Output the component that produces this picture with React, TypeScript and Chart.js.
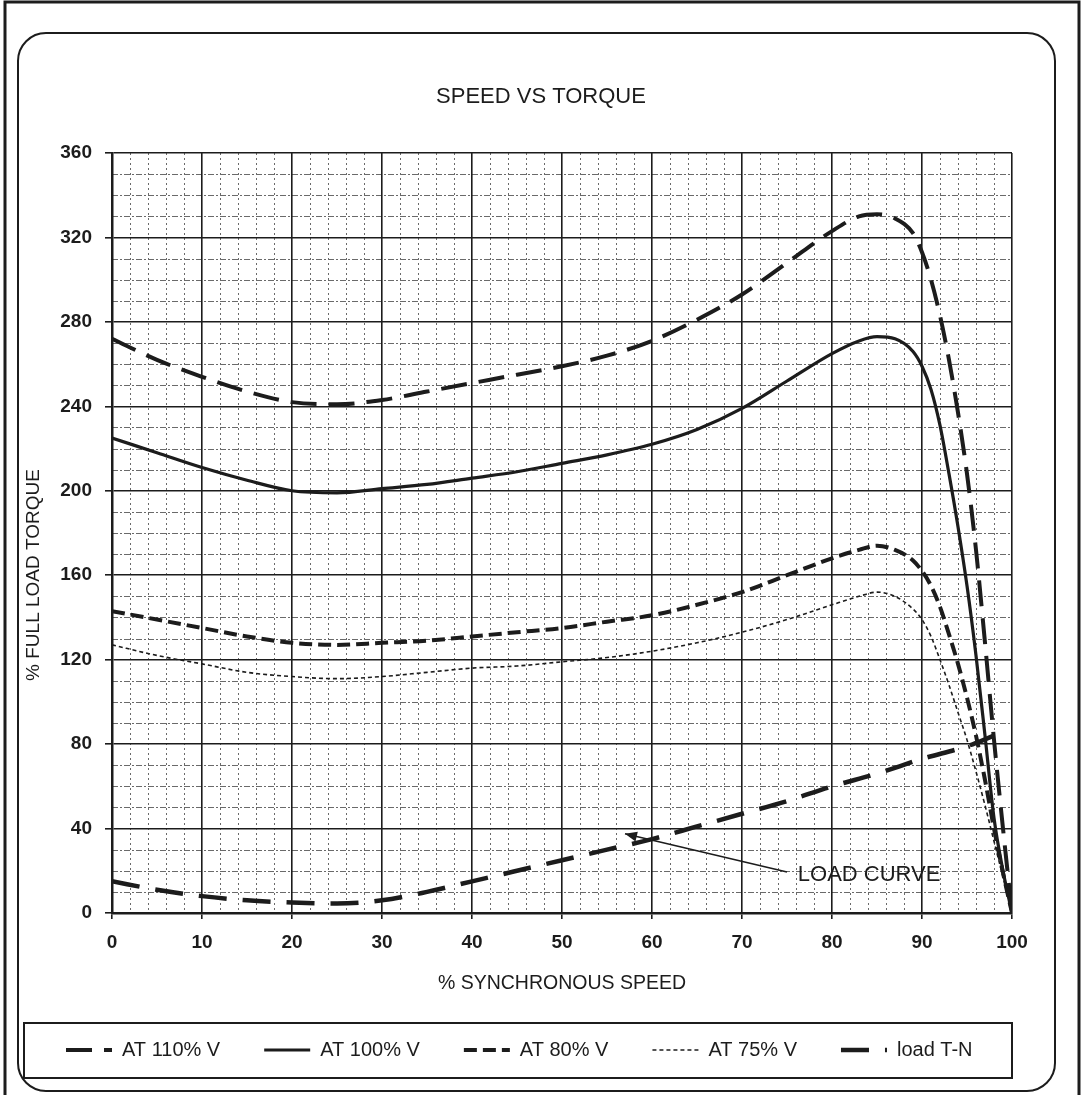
import React, { useEffect, useRef } from 'react';
import { Chart, registerables } from 'chart.js';

Chart.register(...registerables);

// ---------- data ----------
const SPEED = [0, 5, 10, 15, 20, 25, 30, 35, 40, 45, 50, 55, 60, 65, 70, 75, 80, 83, 85, 87, 89, 90, 91, 92, 93, 94, 95, 96, 97, 98, 99, 100];
const T110 = [272, 262, 254, 247, 242, 241, 243, 247, 251, 255, 259, 264, 271, 281, 293, 308, 323, 330, 331, 329, 322, 313, 300, 283, 262, 237, 208, 172, 128, 82, 40, 0];
const T100 = [225, 218, 211, 205, 200, 199, 201, 203, 206, 209, 213, 217, 222, 229, 239, 252, 265, 271, 273, 272, 266, 259, 248, 231, 208, 183, 155, 122, 84, 45, 20, 0];
const T80 = [143, 139, 135, 131, 128, 127, 128, 129, 131, 133, 135, 138, 141, 146, 152, 160, 168, 172, 174, 172, 167, 162, 155, 145, 132, 118, 102, 84, 63, 40, 19, 0];
const T75 = [127, 122, 118, 114, 112, 111, 112, 114, 116, 117, 119, 121, 124, 128, 133, 139, 146, 150, 152, 150, 144, 139, 131, 120, 108, 95, 82, 67, 51, 34, 17, 0];
const LOAD_SPEED = [0, 5, 10, 15, 20, 25, 30, 35, 40, 45, 50, 55, 60, 65, 70, 75, 80, 85, 90, 95, 98];
const LOAD_T = [15, 11, 8, 6, 5, 4.5, 6, 10, 15, 20, 25, 30, 35, 41, 47, 53, 60, 66, 73, 79, 84];

const SERIES_LABELS = ['AT 110% V', 'AT 100% V', 'AT 80% V', 'AT 75% V', 'load T-N'];
const X_TICKS = [0, 10, 20, 30, 40, 50, 60, 70, 80, 90, 100];
const Y_TICKS = [0, 40, 80, 120, 160, 200, 240, 280, 320, 360];
const X_MINOR_STEP = 2;
const Y_MINOR_STEP = 10;

const TITLE = 'SPEED VS TORQUE';
const X_TITLE = '% SYNCHRONOUS SPEED';
const Y_TITLE = '% FULL LOAD TORQUE';

const NOTE_TEXT = 'LOAD CURVE';
const NOTE_TEXT_AT = [76.2, 18];
const NOTE_ARROW_FROM = [75, 19.4];
const NOTE_ARROW_TO = [57.0, 37.5];

// ---------- styling ----------
const FONT = "'Liberation Sans', Arial, Helvetica, sans-serif";
const INK = '#1c1c1c';
const W = 1084;
const H = 1095;

const pairs = (xs: number[], ys: number[]) => xs.map((x, i) => ({ x, y: ys[i] }));

const decorPlugin = {
  id: 'decor',
  beforeDraw(chart: any) {
    const { ctx, scales } = chart;
    const xs = scales.x;
    const ys = scales.y;
    ctx.save();
    ctx.fillStyle = '#ffffff';
    ctx.fillRect(0, 0, chart.width, chart.height);

    // scanned page edges
    ctx.strokeStyle = INK;
    ctx.lineWidth = 3;
    ctx.beginPath();
    ctx.moveTo(5, H);
    ctx.lineTo(5, 2);
    ctx.lineTo(1079, 2);
    ctx.lineTo(1079, H);
    ctx.stroke();

    // rounded chart frame
    ctx.lineWidth = 2;
    ctx.beginPath();
    ctx.roundRect(18, 33, 1037, 1058, 28);
    ctx.stroke();

    // legend frame
    ctx.lineWidth = 2;
    ctx.strokeRect(24, 1023, 988, 55);

    // minor grid
    ctx.strokeStyle = '#6a6a6a';
    ctx.lineWidth = 1;
    ctx.setLineDash([2, 3]);
    const x0 = xs.min, x1 = xs.max, y0 = ys.min, y1 = ys.max;
    for (let v = x0 + X_MINOR_STEP; v < x1; v += X_MINOR_STEP) {
      if (X_TICKS.includes(v)) continue;
      const px = Math.round(xs.getPixelForValue(v)) + 0.5;
      ctx.beginPath();
      ctx.moveTo(px, ys.getPixelForValue(y1));
      ctx.lineTo(px, ys.getPixelForValue(y0));
      ctx.stroke();
    }
    ctx.setLineDash([6, 2, 2, 2]);
    for (let v = y0 + Y_MINOR_STEP; v < y1; v += Y_MINOR_STEP) {
      if (Y_TICKS.includes(v)) continue;
      const py = Math.round(ys.getPixelForValue(v)) + 0.5;
      ctx.beginPath();
      ctx.moveTo(xs.getPixelForValue(x0), py);
      ctx.lineTo(xs.getPixelForValue(x1), py);
      ctx.stroke();
    }
    ctx.restore();
  },
  afterDraw(chart: any) {
    const { ctx, scales } = chart;
    const xs = scales.x;
    const ys = scales.y;
    ctx.save();
    ctx.fillStyle = INK;
    ctx.strokeStyle = INK;

    // chart title
    ctx.font = `22px ${FONT}`;
    ctx.textAlign = 'center';
    ctx.textBaseline = 'middle';
    ctx.fillText(TITLE, 541, 97);

    // y axis title
    ctx.save();
    ctx.translate(34, 575);
    ctx.rotate(-Math.PI / 2);
    ctx.font = `19px ${FONT}`;
    ctx.fillText(Y_TITLE, 0, 0);
    ctx.restore();

    // annotation
    const ax = xs.getPixelForValue(NOTE_ARROW_FROM[0]);
    const ay = ys.getPixelForValue(NOTE_ARROW_FROM[1]);
    const bx = xs.getPixelForValue(NOTE_ARROW_TO[0]);
    const by = ys.getPixelForValue(NOTE_ARROW_TO[1]);
    ctx.lineWidth = 1.5;
    ctx.setLineDash([]);
    ctx.beginPath();
    ctx.moveTo(ax, ay);
    ctx.lineTo(bx, by);
    ctx.stroke();
    const ang = Math.atan2(by - ay, bx - ax);
    const hl = 13;
    ctx.beginPath();
    ctx.moveTo(bx, by);
    ctx.lineTo(bx - hl * Math.cos(ang - 0.4), by - hl * Math.sin(ang - 0.4));
    ctx.lineTo(bx - hl * Math.cos(ang + 0.4), by - hl * Math.sin(ang + 0.4));
    ctx.closePath();
    ctx.fill();
    ctx.font = `22px ${FONT}`;
    ctx.textAlign = 'left';
    ctx.textBaseline = 'middle';
    ctx.fillText(NOTE_TEXT, xs.getPixelForValue(NOTE_TEXT_AT[0]), ys.getPixelForValue(NOTE_TEXT_AT[1]));

    // legend
    const sampleW = 46;
    const gapText = 10;
    const gapItem = 44;
    const cy = 1050;
    let x = 66;
    ctx.font = `20px ${FONT}`;
    chart.data.datasets.forEach((ds: any) => {
      ctx.strokeStyle = ds.borderColor;
      ctx.lineWidth = ds.borderWidth;
      ctx.setLineDash(ds.borderDash || []);
      ctx.beginPath();
      ctx.moveTo(x, cy);
      ctx.lineTo(x + sampleW, cy);
      ctx.stroke();
      ctx.setLineDash([]);
      ctx.fillStyle = INK;
      const tx = x + sampleW + gapText;
      ctx.fillText(ds.label, tx, cy);
      x = tx + ctx.measureText(ds.label).width + gapItem;
    });
    ctx.restore();
  },
};

export default function App() {
  const ref = useRef<HTMLCanvasElement | null>(null);

  useEffect(() => {
    if (!ref.current) return;
    const common = { pointRadius: 0, fill: false, cubicInterpolationMode: 'monotone', borderColor: INK };
    const chart = new Chart(ref.current, {
      type: 'line',
      data: {
        datasets: [
          { ...common, label: SERIES_LABELS[0], data: pairs(SPEED, T110), borderWidth: 4, borderDash: [26, 12] },
          { ...common, label: SERIES_LABELS[1], data: pairs(SPEED, T100), borderWidth: 3.2, borderDash: [] },
          { ...common, label: SERIES_LABELS[2], data: pairs(SPEED, T80), borderWidth: 4, borderDash: [13, 6] },
          { ...common, label: SERIES_LABELS[3], data: pairs(SPEED, T75), borderWidth: 1.6, borderDash: [4, 3] },
          { ...common, label: SERIES_LABELS[4], data: pairs(LOAD_SPEED, LOAD_T), borderWidth: 4.5, borderDash: [28, 16] },
        ] as any,
      },
      options: {
        animation: false,
        responsive: false,
        devicePixelRatio: 1,
        layout: { padding: { left: 20, right: 72, top: 153, bottom: 87 } },
        plugins: {
          legend: { display: false },
          tooltip: { enabled: false },
          title: { display: false },
        },
        scales: {
          x: {
            type: 'linear',
            min: X_TICKS[0],
            max: X_TICKS[X_TICKS.length - 1],
            afterBuildTicks: (s: any) => { s.ticks = X_TICKS.map((v) => ({ value: v })); },
            afterFit: (s: any) => { s.height = 95; },
            ticks: { color: INK, font: { family: FONT, size: 19, weight: 'bold' }, padding: 12, maxRotation: 0, autoSkip: false },
            grid: { color: INK, lineWidth: 1.6, tickLength: 6, tickColor: INK },
            border: { display: true, color: INK, width: 2.5 },
            title: { display: true, text: X_TITLE, color: INK, font: { family: FONT, size: 19.5 }, padding: { top: 0, bottom: 13 } },
          },
          y: {
            type: 'linear',
            min: Y_TICKS[0],
            max: Y_TICKS[Y_TICKS.length - 1],
            afterBuildTicks: (s: any) => { s.ticks = Y_TICKS.map((v) => ({ value: v })); },
            afterFit: (s: any) => { s.width = 92; },
            ticks: { color: INK, font: { family: FONT, size: 19, weight: 'bold' }, padding: 13 },
            grid: { color: INK, lineWidth: 1.6, tickLength: 7, tickColor: INK },
            border: { display: true, color: INK, width: 2.5 },
            title: { display: false },
          },
        },
      } as any,
      plugins: [decorPlugin],
    });
    return () => chart.destroy();
  }, []);

  return (
    <div style={{ position: 'absolute', left: 0, top: 0, width: W, height: H, background: '#fff' }}>
      <canvas ref={ref} width={W} height={H} style={{ display: 'block', width: W, height: H }} />
    </div>
  );
}
